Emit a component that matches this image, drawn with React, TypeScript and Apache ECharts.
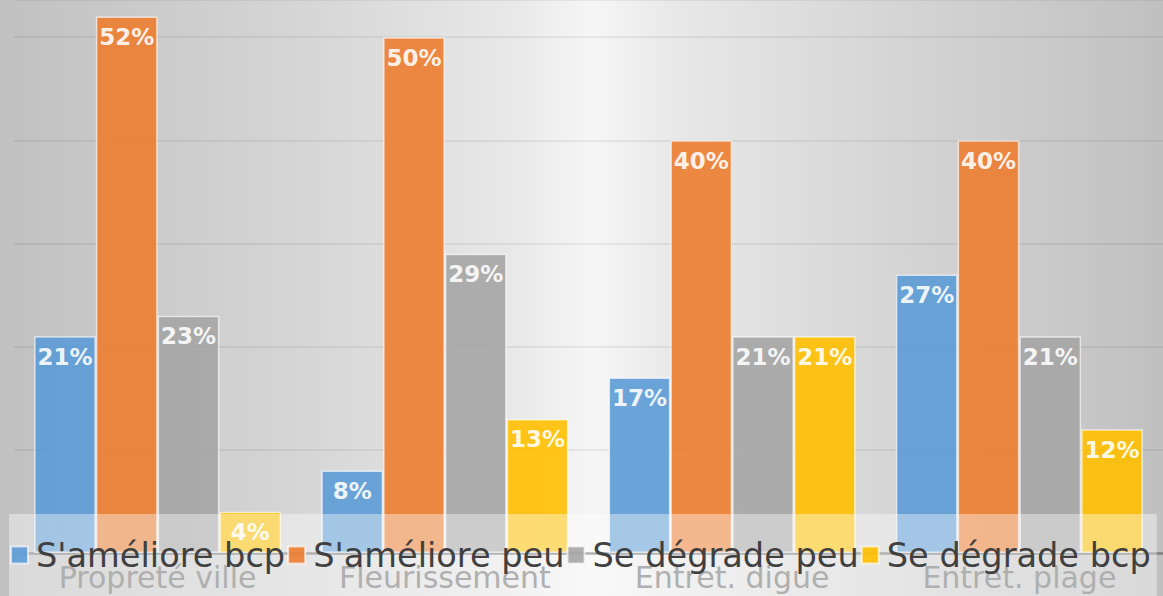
import React, { useEffect, useRef } from "react";
import * as echarts from "echarts";

const categories = ["Propreté ville", "Fleurissement", "Entret. digue", "Entret. plage"];
const seriesNames = ["S'améliore bcp", "S'améliore peu", "Se dégrade peu", "Se dégrade bcp"];
const ameliore_bcp = [21, 8, 17, 27];
const ameliore_peu = [52, 50, 40, 40];
const degrade_peu = [23, 29, 21, 21];
const degrade_bcp = [4, 13, 21, 12];
const colors = ["#5b9bd5", "#ed7d31", "#a5a5a5", "#ffc000"];

export default function App() {
  const ref = useRef<HTMLDivElement>(null);
  useEffect(() => {
    if (!ref.current) return;
    const chart = echarts.init(ref.current, null, { renderer: "svg" });
    const values = [ameliore_bcp, ameliore_peu, degrade_peu, degrade_bcp];
    chart.setOption({
      animation: false,
      backgroundColor: {
        type: "linear",
        x: 0,
        y: 0,
        x2: 1,
        y2: 0,
        colorStops: [
          { offset: 0, color: "#c0c0c0" },
          { offset: 0.03, color: "#c3c3c3" },
          { offset: 0.25, color: "#d5d5d5" },
          { offset: 0.44, color: "#e8e8e8" },
          { offset: 0.51, color: "#f6f6f6" },
          { offset: 0.58, color: "#e8e8e8" },
          { offset: 0.77, color: "#d5d5d5" },
          { offset: 0.97, color: "#c3c3c3" },
          { offset: 1, color: "#c0c0c0" },
        ],
      },
      textStyle: { fontFamily: "DejaVu Sans" },
      grid: { left: 14, right: 0, top: 0, bottom: 43, containLabel: false },
      legend: {
        data: seriesNames,
        left: 9,
        top: 514,
        width: 1160,
        padding: [24, 6, 60, 1],
        itemGap: 2,
        itemWidth: 17,
        itemHeight: 17,
        icon: "rect",
        backgroundColor: "rgba(255,255,255,0.4)",
        textStyle: { fontSize: 33.6, color: "#404040", fontFamily: "DejaVu Sans", padding: [0, 0, 0, 3] },
      },
      xAxis: {
        type: "category",
        data: categories,
        axisLine: { show: true, lineStyle: { color: "#7f7f7f", width: 2.5 } },
        axisTick: { show: false },
        axisLabel: { fontSize: 30, color: "#7a7a7a", margin: 9, fontFamily: "DejaVu Sans" },
      },
      yAxis: {
        type: "value",
        min: 0,
        max: 53.6,
        interval: 10,
        axisLabel: { show: false },
        axisLine: { show: false },
        axisTick: { show: false },
        splitLine: { show: true, lineStyle: { color: "rgba(0,0,0,0.06)", width: 2 } },
      },
      series: seriesNames.map((name, i) => ({
        name,
        type: "bar",
        data: values[i],
        barGap: "0%",
        barCategoryGap: "14%",
        itemStyle: {
          color: colors[i],
          opacity: 0.9,
          borderColor: "rgba(255,255,255,0.7)",
          borderWidth: 1.5,
        },
        label: {
          show: true,
          position: "insideTop",
          distance: 9,
          formatter: "{c}%",
          color: "#ffffff",
          fontWeight: "bold",
          fontSize: 23,
          fontFamily: "DejaVu Sans",
        },
      })),
    });
    return () => chart.dispose();
  }, []);
  return (
    <div
      ref={ref}
      style={{ position: "absolute", left: 0, top: 0, width: 1163, height: 596 }}
    />
  );
}
